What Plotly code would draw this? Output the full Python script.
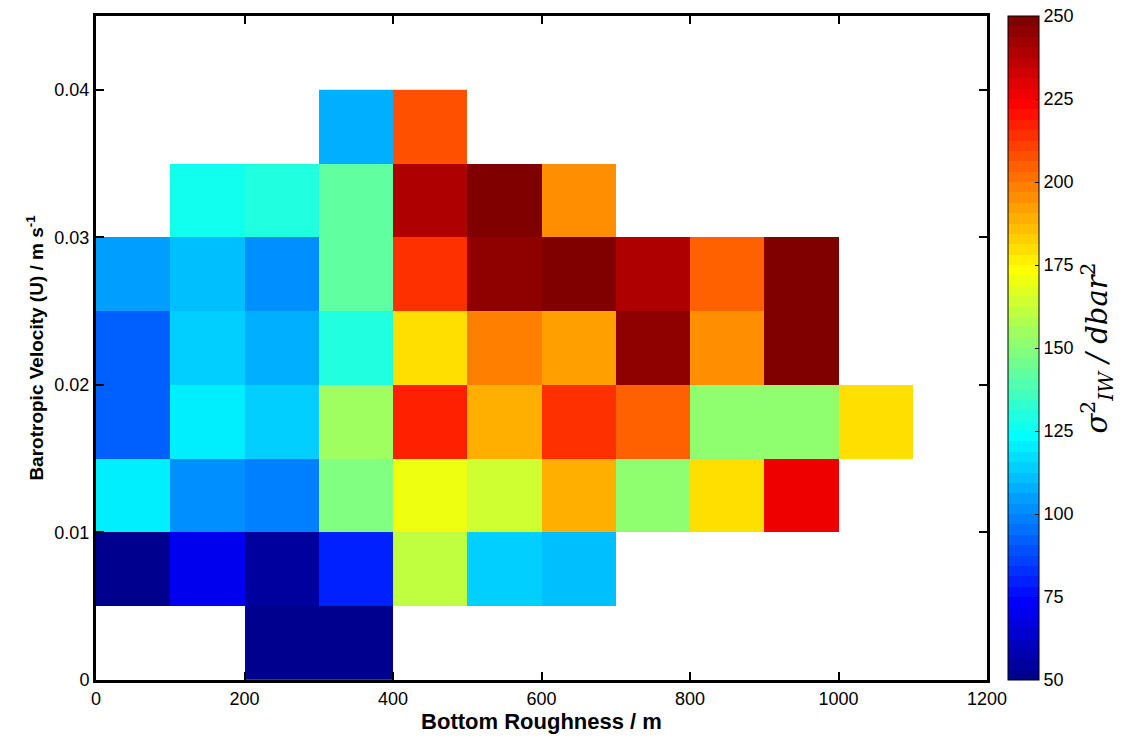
import numpy as np
import plotly.graph_objects as go

# Bin centres
roughness = [50, 150, 250, 350, 450, 550, 650, 750, 850, 950, 1050]          # m
velocity = [0.0025, 0.0075, 0.0125, 0.0175, 0.0225, 0.0275, 0.0325, 0.0375]  # m/s

# sigma^2_IW values, one row per velocity bin (bottom to top); None = no data
row_0000 = [None, None, 52.5, 52.5, None, None, None, None, None, None, None]
row_0005 = [52.5, 71, 56, 81, 160, 115, 112, None, None, None, None]
row_0010 = [119, 102, 99, 148, 170, 163, 189, 153, 180, 225, None]
row_0015 = [91, 119, 115, 155, 218, 189, 215, 206, 150.5, 153, 181]
row_0020 = [91, 114, 107, 131, 181, 199, 193.5, 246.5, 196.5, 250, None]
row_0025 = [104, 112, 100.5, 141, 215, 244, 250, 240, 206, 250, None]
row_0030 = [None, 128, 131, 142.5, 238, 250, 196.5, None, None, None, None]
row_0035 = [None, None, None, 108, 209, None, None, None, None, None, None]

z = [row_0000, row_0005, row_0010, row_0015, row_0020, row_0025, row_0030, row_0035]

x_ticks = [0, 200, 400, 600, 800, 1000, 1200]
y_ticks = [0, 0.01, 0.02, 0.03, 0.04]
y_tick_text = ["0", "0.01", "0.02", "0.03", "0.04"]
cb_ticks = [50, 75, 100, 125, 150, 175, 200, 225, 250]


def matlab_jet(m=64):
    n = int(np.ceil(m / 4))
    u = np.concatenate([np.arange(1, n + 1) / n, np.ones(n - 1), np.arange(n, 0, -1) / n])
    g = int(np.ceil(n / 2)) - (1 if m % 4 == 1 else 0) + np.arange(1, len(u) + 1)
    r = g + n
    b = g - n
    J = np.zeros((m, 3))
    mr = r <= m
    J[r[mr] - 1, 0] = u[mr]
    J[g[g <= m] - 1, 1] = u[: np.sum(g <= m)]
    mb = b >= 1
    J[b[mb] - 1, 2] = u[mb]
    return J


J = matlab_jet(64)
colorscale = []
for i, c in enumerate(J):
    col = "rgb(%d,%d,%d)" % tuple(int(round(v * 255)) for v in c)
    colorscale.append([i / 64, col])
    colorscale.append([(i + 1) / 64, col])

font_family = "Liberation Sans, Arial, sans-serif"
plot_w = 1136 - 96 - 149

fig = go.Figure(
    go.Heatmap(
        x=roughness,
        y=velocity,
        z=z,
        zmin=50,
        zmax=250,
        colorscale=colorscale,
        hoverongaps=False,
        colorbar=dict(
            x=1.0 + 21 / plot_w,
            xref="paper",
            xanchor="left",
            xpad=0,
            ypad=0,
            y=0,
            yanchor="bottom",
            len=1.0,
            lenmode="fraction",
            thickness=31,
            thicknessmode="pixels",
            outlinecolor="black",
            outlinewidth=1,
            ticks="inside",
            ticklen=4,
            tickcolor="black",
            tickvals=cb_ticks,
            ticklabelposition="outside",
            tickfont=dict(family=font_family, size=18, color="black"),
            title=dict(
                text="<i>σ</i><sup>2</sup><sub><i>IW</i></sub><i> / dbar</i><sup>2</sup>",
                side="right",
                font=dict(family="DejaVu Serif, serif", size=29, color="black"),
            ),
        ),
    )
)

fig.update_xaxes(
    range=[0, 1200],
    tickvals=x_ticks,
    ticks="inside",
    ticklen=8,
    tickwidth=2,
    tickcolor="black",
    showline=True,
    linewidth=3,
    linecolor="black",
    mirror="ticks",
    showgrid=False,
    zeroline=False,
    tickfont=dict(family=font_family, size=18, color="black"),
    title=dict(text="<b>Bottom Roughness / m</b>", standoff=0,
               font=dict(family=font_family, size=22, color="black")),
)
fig.update_yaxes(
    range=[0, 0.045],
    tickvals=y_ticks,
    ticktext=y_tick_text,
    ticks="inside",
    ticklen=8,
    tickwidth=2,
    tickcolor="black",
    showline=True,
    linewidth=3,
    linecolor="black",
    mirror="ticks",
    showgrid=False,
    zeroline=False,
    tickfont=dict(family=font_family, size=18, color="black"),
    title=dict(text="<b>Barotropic Velocity (U) / m s<sup>-1</sup></b>", standoff=6,
               font=dict(family=font_family, size=19, color="black")),
)

fig.update_layout(
    width=1136,
    height=739,
    margin=dict(l=96, r=149, t=16, b=59),
    paper_bgcolor="white",
    plot_bgcolor="white",
)

fig.write_html("out.html")
